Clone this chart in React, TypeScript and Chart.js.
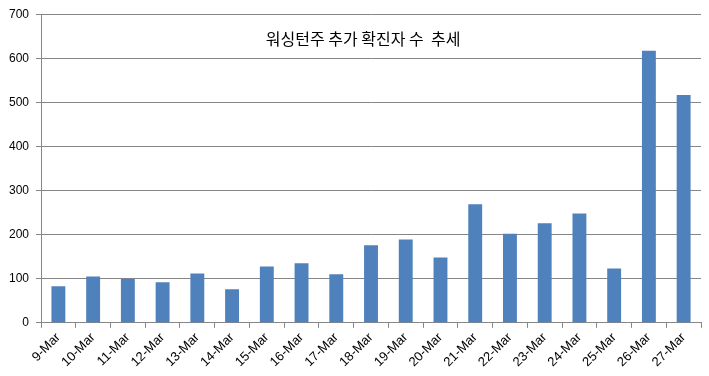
import React, { useEffect, useRef } from "react";
import { Chart, registerables } from "chart.js";

Chart.register(...registerables);

const categories = ["9-Mar","10-Mar","11-Mar","12-Mar","13-Mar","14-Mar","15-Mar","16-Mar","17-Mar","18-Mar","19-Mar","20-Mar","21-Mar","22-Mar","23-Mar","24-Mar","25-Mar","26-Mar","27-Mar"];
const values = [83,105,100,92,112,76,128,135,110,176,189,148,269,202,226,248,123,617,517];
const titleText = "워싱턴주 추가 확진자 수  추세";
const yMax = 700;
const yStep = 100;

const titlePlugin = {
  id: "insideTitle",
  afterDraw(chart: any) {
    const { ctx, chartArea } = chart;
    ctx.save();
    ctx.font = "16px 'Noto Sans CJK KR'";
    ctx.fillStyle = "#000000";
    ctx.textAlign = "center";
    ctx.textBaseline = "middle";
    ctx.fillText(titleText, chartArea.left + (chartArea.right - chartArea.left) * 0.488, chartArea.top + 25);
    ctx.restore();
  },
};

export default function App() {
  const ref = useRef<HTMLCanvasElement | null>(null);
  useEffect(() => {
    if (!ref.current) return;
    const chart = new Chart(ref.current, {
      type: "bar",
      data: {
        labels: categories,
        datasets: [
          {
            data: values,
            backgroundColor: "#4F81BD",
            barPercentage: 0.4,
            categoryPercentage: 1,
          },
        ],
      },
      options: {
        animation: false,
        responsive: true,
        maintainAspectRatio: false,
        layout: { padding: { left: 2, right: 8, top: 6, bottom: 4 } },
        plugins: { legend: { display: false }, tooltip: { enabled: false }, title: { display: false } },
        scales: {
          x: {
            grid: { display: true, drawOnChartArea: false, drawTicks: true, tickLength: 5, color: "#868686", offset: true },
            border: { display: true, color: "#868686" },
            ticks: { color: "#000000", font: { family: "'Liberation Sans'", size: 13 }, minRotation: 45, maxRotation: 45, autoSkip: false, padding: 2 },
          },
          y: {
            min: 0,
            max: yMax,
            grid: { color: "#868686", tickLength: 5 },
            border: { display: true, color: "#868686" },
            ticks: { stepSize: yStep, color: "#000000", font: { family: "'Liberation Sans'", size: 12 }, padding: 7 },
          },
        },
      },
      plugins: [titlePlugin],
    });
    return () => chart.destroy();
  }, []);
  return (
    <div style={{ position: "fixed", left: 0, top: 0, width: 709, height: 376, background: "#fff" }}>
      <canvas ref={ref} />
    </div>
  );
}
